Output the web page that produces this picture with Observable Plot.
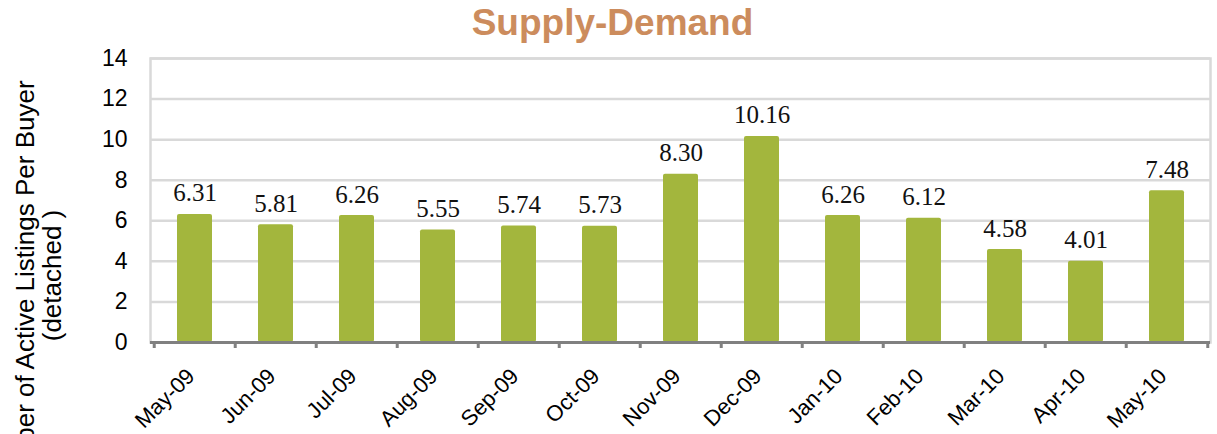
<!DOCTYPE html>
<html>
<head>
<meta charset="utf-8">
<script src="https://cdn.jsdelivr.net/npm/d3@7"></script>
<script src="https://cdn.jsdelivr.net/npm/@observablehq/plot@0.6"></script>
<style>
  html, body { margin: 0; padding: 0; background: #fff; }
  #title {
    width: 1209px; padding-left: 8px; height: 45px; line-height: 45px; text-align: center;
    font-family: "Liberation Sans", Arial, sans-serif; font-weight: bold;
    font-size: 37px; color: #CC8C5D;
  }
  #chart svg { display: block; overflow: visible; }
</style>
</head>
<body>
<div id="title"></div>
<div id="chart"></div>
<script>
const title = "Supply-Demand";
const months = ["May-09", "Jun-09", "Jul-09", "Aug-09", "Sep-09", "Oct-09", "Nov-09",
                "Dec-09", "Jan-10", "Feb-10", "Mar-10", "Apr-10", "May-10"];
const values = [6.31, 5.81, 6.26, 5.55, 5.74, 5.73, 8.30, 10.16, 6.26, 6.12, 4.58, 4.01, 7.48];
const yTicks = [0, 2, 4, 6, 8, 10, 12, 14];
const yLabelLine1 = "Number of Active Listings Per Buyer";
const yLabelLine2 = "(detached )";

document.getElementById("title").textContent = title;

const data = months.map((m, i) => ({month: m, value: values[i]}));

const W = 1217, H = 389, mL = 150, mR = 7, mT = 13, mB = 92;
const bw = (W - mL - mR) / months.length;

const chart = Plot.plot({
  width: W, height: H,
  marginTop: mT, marginBottom: mB, marginLeft: mL, marginRight: mR,
  x: {domain: months, padding: 0, label: null},
  y: {domain: [0, 14], label: null},
  style: {fontFamily: "'Liberation Sans', Arial, sans-serif", background: "#fff", color: "#000"},
  marks: [
    Plot.gridY(yTicks, {stroke: "#D9D9D9", strokeOpacity: 1, strokeWidth: 2.5}),
    Plot.frame({stroke: "#D9D9D9", strokeWidth: 2.5}),
    Plot.barY(data, {x: "month", y: "value", fill: "#A3B63D", insetLeft: 23, insetRight: 23, rx: 2}),
    Plot.ruleY([0], {stroke: "#808080", strokeWidth: 3}),
    Plot.ruleX(months, {x: d => d, y1: 0, y2: 0, dx: -bw / 2, insetBottom: -6, stroke: "#808080", strokeWidth: 3}),
    Plot.ruleX([months[months.length - 1]], {x: d => d, y1: 0, y2: 0, dx: bw / 2, insetBottom: -6, stroke: "#808080", strokeWidth: 3}),
    Plot.text(data, {x: "month", y: "value", text: d => d.value.toFixed(2), dy: -13, lineAnchor: "bottom",
      fontFamily: "'Liberation Serif', serif", fontSize: 25, fill: "#111"}),
    Plot.axisY(yTicks, {tickSize: 0, tickPadding: 23, fontSize: 23, label: null}),
    Plot.axisX({tickRotate: -45, tickSize: 0, tickPadding: 30, dx: -4, fontSize: 22, label: null}),
    Plot.text([yLabelLine1], {frameAnchor: "left", rotate: -90, dx: -117, dy: 88, fontSize: 26,
      lineAnchor: "bottom", textAnchor: "middle", fill: "#000"}),
    Plot.text([yLabelLine2], {frameAnchor: "left", rotate: -90, dx: -90, dy: 75, fontSize: 26,
      lineAnchor: "bottom", textAnchor: "middle", fill: "#000"})
  ]
});
document.getElementById("chart").appendChild(chart);
</script>
</body>
</html>
